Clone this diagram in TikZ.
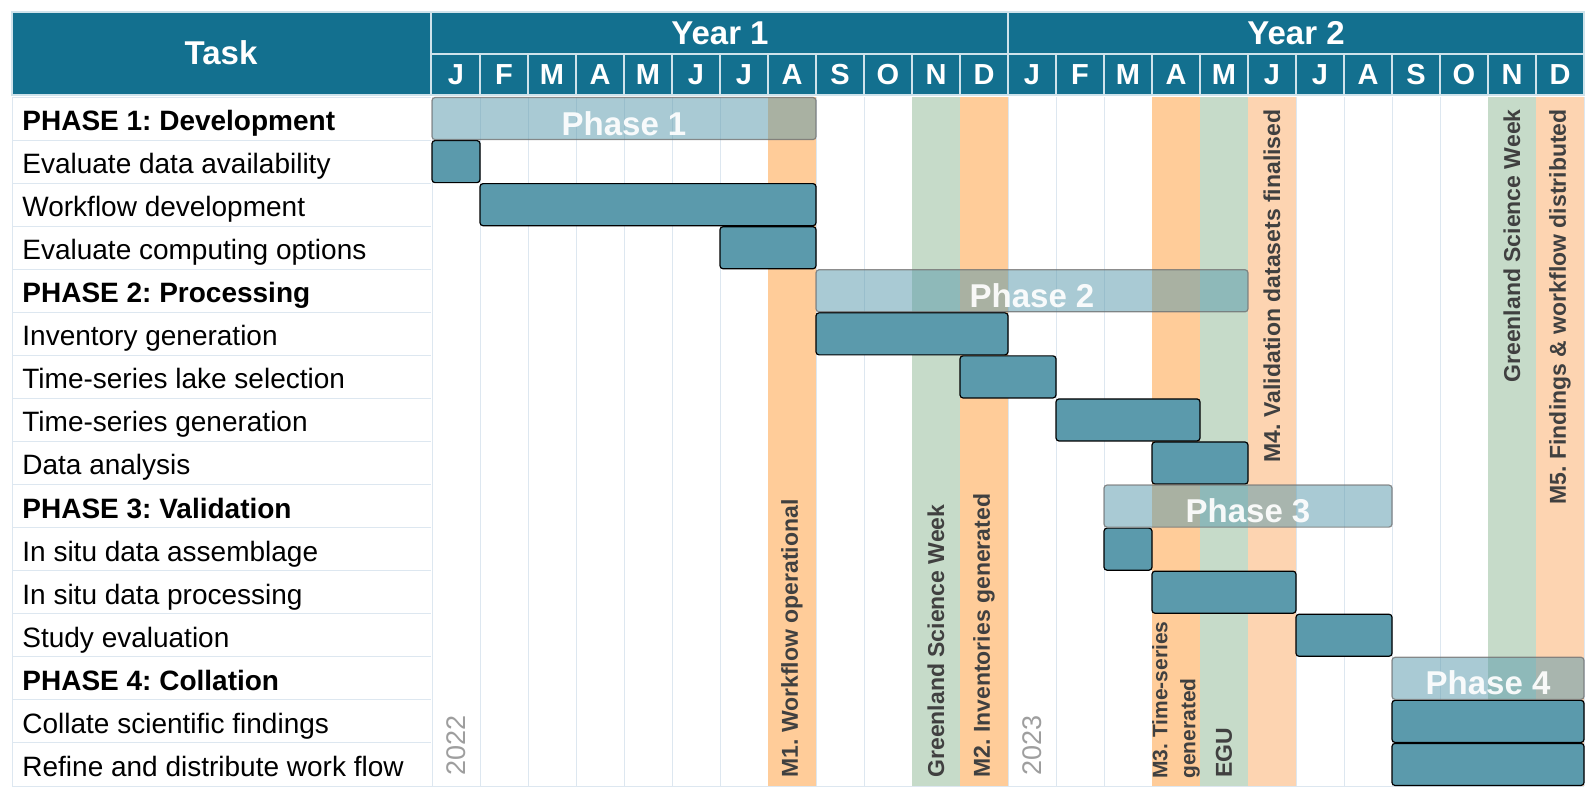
\documentclass[tikz,border=0pt]{standalone}
\usepackage{fontspec}
\setmainfont{Liberation Sans}
\frenchspacing
\definecolor{hdr}{HTML}{13708F}
\definecolor{hdrline}{HTML}{CFE3EB}
\definecolor{bar}{HTML}{5B9AAC}
\definecolor{msorange}{HTML}{FFCC99}
\definecolor{mspeach}{HTML}{FDD4B1}
\definecolor{evgreen}{HTML}{C6DBC9}
\definecolor{gridc}{HTML}{DDE7F0}
\definecolor{mstext}{HTML}{404040}
\tikzset{
  gridline/.style={gridc, line width=0.5pt},
  hdrframe/.style={hdrline, line width=1pt},
  hdrtext/.style={text=white, font=\bfseries\fontsize{16.5}{19}\selectfont, inner sep=0pt},
  monthtext/.style={text=white, font=\bfseries\fontsize{14.5}{17}\selectfont, inner sep=0pt},
  tasklabel/.style={anchor=base west, inner sep=0pt, font=\fontsize{14}{17}\selectfont},
  phaselabel/.style={tasklabel, font=\bfseries\fontsize{14}{17}\selectfont},
  taskbar/.style={fill=bar, draw=black, line width=0.6pt, rounded corners=1.5pt},
  phasebar/.style={fill=bar, fill opacity=0.52, draw=black!55, draw opacity=0.8,
    line width=0.6pt, rounded corners=1.5pt},
  phasetext/.style={anchor=base, inner sep=0pt, text=white, text opacity=0.92,
    font=\bfseries\fontsize{16.5}{19}\selectfont},
  mslabel/.style={rotate=90, inner sep=0pt, text=mstext, align=left,
    font=\bfseries\fontsize{11.5}{14}\selectfont},
  yearlabel/.style={rotate=90, anchor=west, inner sep=0pt, text=black!38,
    font=\fontsize{13.5}{16}\selectfont}
}
\begin{document}
\begin{tikzpicture}[x=0.5pt,y=-0.5pt]
\useasboundingbox (0,0) rectangle (1596,800);
% grid
\foreach \m in {0,...,24}
  \draw[gridline] ({432+48*\m},97) -- ({432+48*\m},786);
\foreach \r in {0,...,15}
  \draw[gridline] (12,{97+43.06*\r}) -- (431,{97+43.06*\r});
\draw[gridline] (12,97) -- (12,786) -- (1584,786);

% milestone and event columns
\foreach \m/\c in {7/msorange,10/evgreen,11/msorange,15/msorange,16/evgreen,17/mspeach,22/evgreen,23/mspeach}
  \fill[\c] ({432+48*\m},97) rectangle ({480+48*\m},786);

% header
\fill[hdr] (12,12) rectangle (1584,95);
\draw[hdrframe] (12,12) rectangle (1584,95);
\draw[hdrframe] (431,12) -- (431,95) (1008,12) -- (1008,95) (431,54) -- (1584,54);
\foreach \m in {1,...,23}
  \draw[hdrframe] ({432+48*\m},54) -- ({432+48*\m},95);
\node[hdrtext] (task) at (221,53) {Task};
\node[hdrtext] (year1) at (720,33) {Year 1};
\node[hdrtext] (year2) at (1296,33) {Year 2};
\foreach \y in {0,1}
  \foreach \m/\l in {0/J,1/F,2/M,3/A,4/M,5/J,6/J,7/A,8/S,9/O,10/N,11/D}
    \node[monthtext] (mon\y-\m) at ({456+576*\y+48*\m},75) {\l};

% tasks
\foreach \r/\s/\e/\t in {1/0/1/Evaluate data availability, 2/1/8/Workflow development,
    3/6/8/Evaluate computing options, 5/8/12/Inventory generation,
    6/11/13/Time-series lake selection, 7/13/16/Time-series generation,
    8/15/17/Data analysis, 10/14/15/In situ data assemblage,
    11/15/18/In situ data processing, 12/18/20/Study evaluation,
    14/20/24/Collate scientific findings, 15/20/24/Refine and distribute work flow}{
  \draw[taskbar] ({432+48*\s},{97.5+43.06*\r}) rectangle ({432+48*\e},{96.5+43.06*(\r+1)});
  \node[tasklabel] (task\r) at (22,{130.5+43.06*\r}) {\t};
}

% phases
\foreach \r/\n/\t/\s/\e in {0/1/Development/0/8, 4/2/Processing/8/17,
    9/3/Validation/14/20, 13/4/Collation/20/24}{
  \node[phaselabel] (phase\n) at (22,{130.5+43.06*\r}) {PHASE \n: \t};
  \draw[phasebar] ({432+48*\s},{97.5+43.06*\r}) rectangle ({432+48*\e},{96.5+43.06*(\r+1)});
  \node[phasetext] (bar\n) at ({432+24*(\s+\e)},{135+43.06*\r}) {Phase \n};
}

% milestone labels
\foreach \m/\l in {7/M1. Workflow operational, 10/Greenland Science Week,
    11/M2. Inventories generated, 16/EGU}
  \node[mslabel, anchor=west] (ms\m) at ({456+48*\m},778) {\l};
\node[mslabel, anchor=west, font=\bfseries\fontsize{10.5}{14}\selectfont] (ms15)
  at (1176,779) {M3. Time-series\\generated};
\foreach \m/\l in {17/M4. Validation datasets finalised, 22/Greenland Science Week,
    23/M5. Findings \& workflow distributed}
  \node[mslabel, anchor=east] (ms\m) at ({456+48*\m},109) {\l};

\node[yearlabel] (yr22) at (456,776) {2022};
\node[yearlabel] (yr23) at (1032,776) {2023};
\end{tikzpicture}
\end{document}
